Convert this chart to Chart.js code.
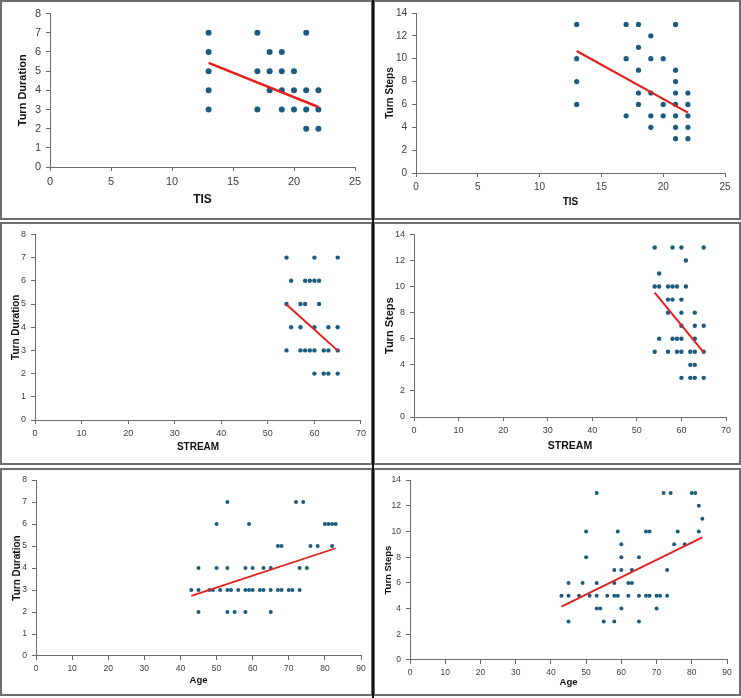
<!DOCTYPE html>
<html>
<head>
<meta charset="utf-8">
<script src="https://cdn.jsdelivr.net/npm/chart.js@4"></script>
<style>
  html, body { margin: 0; padding: 0; background: #fff; }
  #page { position: relative; width: 741px; height: 698px; overflow: hidden; }
  canvas { position: absolute; }
  .box { position: absolute; border: 2px solid #6e6e6e; box-sizing: border-box; pointer-events: none; }
  .vline { position: absolute; left: 372px; top: 0; width: 2px; height: 698px; background: #111; }
</style>
</head>
<body>
<div id="page"></div>
<script>
// ---- data ----
// TIS vs Turn Duration
const tisDurX = [13,13,13,13,13, 17,17,17, 18,18,18, 19,19,19,19, 20,20,20, 21,21,21,21, 22,22,22];
const tisDurY = [7,6,5,4,3, 7,5,3, 6,5,4, 6,5,4,3, 5,4,3, 7,4,3,2, 4,3,2];
const tisDurFitX = [13, 22];
const tisDurFitY = [5.43, 3.13];

// TIS vs Turn Steps
const tisStepX = [13,13,13,13, 17,17,17, 18,18,18,18,18, 19,19,19,19,19, 20,20,20, 21,21,21,21,21,21,21,21, 22,22,22,22,22];
const tisStepY = [13,10,8,6, 13,10,5, 13,11,9,7,6, 12,10,7,5,4, 10,6,5, 13,9,8,7,6,5,4,3, 7,6,5,4,3];
const tisStepFitX = [13, 22];
const tisStepFitY = [10.68, 5.28];

// STREAM vs Turn Duration
const strDurX = [54,60,65, 55,58,59,60,61, 54,57,58,61, 55,57,60,63,65, 54,57,58,59,60,62,63,65, 60,62,63,65];
const strDurY = [7,7,7, 6,6,6,6,6, 5,5,5,5, 4,4,4,4,4, 3,3,3,3,3,3,3,3, 2,2,2,2];
const strDurFitX = [54, 65];
const strDurFitY = [4.98, 2.99];

// STREAM vs Turn Steps
const strStepX = [54,58,60,65, 61, 55, 54,55,57,58,59,61, 57,58,60, 57,60,63, 60,63,65, 55,58,59,60,63, 54,57,59,60,62,63,65, 62,63, 60,62,63,65];
const strStepY = [13,13,13,13, 12, 11, 10,10,10,10,10,10, 9,9,9, 8,8,8, 7,7,7, 6,6,6,6,6, 5,5,5,5,5,5,5, 4,4, 3,3,3,3];
const strStepFitX = [54, 65];
const strStepFitY = [9.54, 4.96];

// Age vs Turn Duration
const ageDurX = [53,72,74, 50,59,80,81,82,83, 67,68,76,78,82, 45,50,53,58,60,63,65,73,75,
                 43,45,48,49,51,53,54,56,58,59,60,62,63,65,67,68,70,71,73, 45,53,55,58,65];
const ageDurY = [7,7,7, 6,6,6,6,6,6, 5,5,5,5,5, 4,4,4,4,4,4,4,4,4,
                 3,3,3,3,3,3,3,3,3,3,3,3,3,3,3,3,3,3,3, 2,2,2,2,2];
const ageDurFitX = [43, 83];
const ageDurFitY = [2.73, 4.90];

// Age vs Turn Steps
const ageStepX = [53,72,74,80,81, 82, 83, 50,59,67,68,76,82, 60,75,78, 50,60,65, 58,60,63,73, 45,49,53,58,62,63,
                  43,45,48,51,53,56,58,59,62,65,67,68,70,71,73, 53,54,60,70, 45,55,58,65];
const ageStepY = [13,13,13,13,13, 12, 11, 10,10,10,10,10,10, 9,9,9, 8,8,8, 7,7,7,7, 6,6,6,6,6,6,
                  5,5,5,5,5,5,5,5,5,5,5,5,5,5,5, 4,4,4,4, 3,3,3,3];
const ageStepFitX = [43, 83];
const ageStepFitY = [4.15, 9.54];

const dotColor = '#1b5b80';
const fitColor = '#e3201b';

function pairs(xs, ys) {
    return xs.map((x, i) => ({ x: x, y: ys[i] }));
}

// layout of each panel in page pixels
const panels = [
    { box: [0, 0, 373, 220], canvas: [2, 2, 368, 216], area: [50, 13, 355, 167], xTitleY: 200, yTitleX: 23,
      xName: 'TIS', yName: 'Turn Duration', xMax: 25, xStep: 5, yMax: 8, yStep: 1,
      tickSize: 11, titleSize: 12, yTitleSize: 11, family: '"Liberation Sans", Arial, sans-serif', r: 3, lw: 2.5,
      xs: tisDurX, ys: tisDurY, fx: tisDurFitX, fy: tisDurFitY },
    { box: [373, 0, 368, 220], canvas: [375, 2, 364, 216], area: [416, 12, 725, 173], xTitleY: 202, yTitleX: 390,
      xName: 'TIS', yName: 'Turn Steps', xMax: 25, xStep: 5, yMax: 14, yStep: 2,
      tickSize: 10, titleSize: 10, yTitleSize: 10, family: '"Liberation Sans", Arial, sans-serif', r: 2.6, lw: 2.2,
      xs: tisStepX, ys: tisStepY, fx: tisStepFitX, fy: tisStepFitY },
    { box: [0, 222, 373, 243], canvas: [2, 224, 368, 239], area: [35, 233, 361, 420], xTitleY: 447, yTitleX: 16,
      xName: 'STREAM', yName: 'Turn Duration', xMax: 70, xStep: 10, yMax: 8, yStep: 1,
      tickSize: 9, titleSize: 10, yTitleSize: 10, family: '"Liberation Sans Narrow", "Liberation Sans", sans-serif', r: 2.2, lw: 2,
      xs: strDurX, ys: strDurY, fx: strDurFitX, fy: strDurFitY },
    { box: [373, 222, 368, 243], canvas: [375, 224, 364, 239], area: [414, 233, 726, 417], xTitleY: 446, yTitleX: 390,
      xName: 'STREAM', yName: 'Turn Steps', xMax: 70, xStep: 10, yMax: 14, yStep: 2,
      tickSize: 9, titleSize: 10.5, yTitleSize: 11, family: '"Liberation Sans Narrow", "Liberation Sans", sans-serif', r: 2.2, lw: 2,
      xs: strStepX, ys: strStepY, fx: strStepFitX, fy: strStepFitY },
    { box: [0, 468, 373, 228], canvas: [2, 470, 368, 224], area: [36, 478, 361, 656], xTitleY: 680, yTitleX: 17,
      xName: 'Age', yName: 'Turn Duration', xMax: 90, xStep: 10, yMax: 8, yStep: 1,
      tickSize: 8.5, titleSize: 9.5, yTitleSize: 10, family: '"Liberation Sans Narrow", "Liberation Sans", sans-serif', r: 2, lw: 1.8,
      xs: ageDurX, ys: ageDurY, fx: ageDurFitX, fy: ageDurFitY },
    { box: [373, 468, 368, 228], canvas: [375, 470, 364, 224], area: [410, 478, 727, 660], xTitleY: 682, yTitleX: 388,
      xName: 'Age', yName: 'Turn Steps', xMax: 90, xStep: 10, yMax: 14, yStep: 2,
      tickSize: 8.5, titleSize: 9.5, yTitleSize: 9.5, family: '"Liberation Sans Narrow", "Liberation Sans", sans-serif', r: 2, lw: 1.8,
      xs: ageStepX, ys: ageStepY, fx: ageStepFitX, fy: ageStepFitY }
];

const page = document.getElementById('page');

panels.forEach(p => {
    const [cx, cy, cw, ch] = p.canvas;
    const [L, T, R, B] = p.area;
    const canvas = document.createElement('canvas');
    canvas.width = cw;
    canvas.height = ch;
    canvas.style.left = cx + 'px';
    canvas.style.top = cy + 'px';
    canvas.style.width = cw + 'px';
    canvas.style.height = ch + 'px';
    page.appendChild(canvas);

    const yLh = p.yTitleSize * 1.2;
    const xLh = p.titleSize * 1.2;
    const padLeft = p.yTitleX - cx - yLh / 2;
    const padTop = T - cy;
    const padRight = cx + cw - R;
    const padBottom = cy + ch - p.xTitleY - xLh / 2;
    const yWidth = L - cx - padLeft;
    const xHeight = cy + ch - padBottom - B;

    new Chart(canvas, {
        type: 'scatter',
        data: {
            datasets: [
                {
                    type: 'line',
                    data: pairs(p.fx, p.fy),
                    borderColor: fitColor,
                    borderWidth: p.lw,
                    pointRadius: 0,
                    fill: false,
                    order: 0
                },
                {
                    data: pairs(p.xs, p.ys),
                    backgroundColor: dotColor,
                    borderColor: dotColor,
                    borderWidth: 0,
                    pointRadius: p.r,
                    order: 1
                }
            ]
        },
        options: {
            responsive: false,
            animation: false,
            devicePixelRatio: 1,
            layout: { padding: { left: padLeft, top: padTop, right: padRight, bottom: padBottom } },
            plugins: { legend: { display: false }, tooltip: { enabled: false } },
            scales: {
                x: {
                    type: 'linear',
                    min: 0,
                    max: p.xMax,
                    afterFit: s => { s.height = xHeight; },
                    border: { color: '#6b6b6b', width: 1 },
                    grid: { drawOnChartArea: false, drawTicks: true, tickLength: 4, color: '#6b6b6b' },
                    ticks: { stepSize: p.xStep, color: '#404040', padding: 4, maxRotation: 0,
                             font: { family: p.family, size: p.tickSize } },
                    title: { display: true, text: p.xName, color: '#111', padding: 0,
                             font: { family: p.family, size: p.titleSize, weight: 'bold' } }
                },
                y: {
                    type: 'linear',
                    min: 0,
                    max: p.yMax,
                    afterFit: s => { s.width = yWidth; },
                    border: { color: '#6b6b6b', width: 1 },
                    grid: { drawOnChartArea: false, drawTicks: true, tickLength: 4, color: '#6b6b6b' },
                    ticks: { stepSize: p.yStep, color: '#404040', padding: 5,
                             font: { family: p.family, size: p.tickSize } },
                    title: { display: true, text: p.yName, color: '#111', padding: 0,
                             font: { family: p.family, size: p.yTitleSize, weight: 'bold' } }
                }
            }
        }
    });

    const box = document.createElement('div');
    box.className = 'box';
    box.style.left = p.box[0] + 'px';
    box.style.top = p.box[1] + 'px';
    box.style.width = p.box[2] + 'px';
    box.style.height = p.box[3] + 'px';
    page.appendChild(box);
});

const vline = document.createElement('div');
vline.className = 'vline';
page.appendChild(vline);
</script>
</body>
</html>
